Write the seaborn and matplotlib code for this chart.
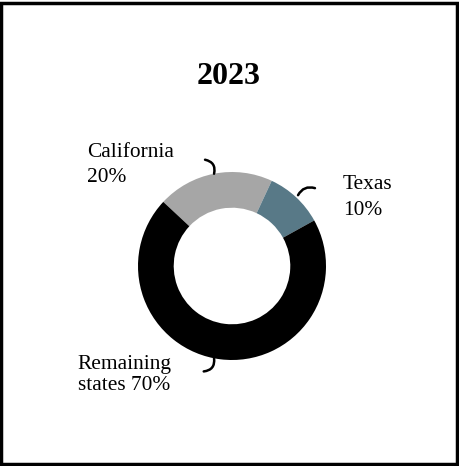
import numpy as np
import matplotlib
matplotlib.use("Agg")
from matplotlib import pyplot as plt
from matplotlib.patches import Rectangle
import seaborn as sns

# data
title = "2023"
states = ["California", "Texas", "Remaining states"]
shares = [20, 10, 70]
label_texts = ["California\n20%", "Texas\n10%", "Remaining\nstates 70%"]
slice_colors = ["#a6a6a6", "#587987", "#000000"]

sns.set_theme(style="white")
plt.rcParams["font.family"] = ["Liberation Serif", "DejaVu Serif"]

fig = plt.figure(figsize=(4.6, 4.66), dpi=100)
ax = fig.add_axes([0, 0, 1, 1])

start = 137
wedges, _ = ax.pie(shares, colors=slice_colors, startangle=start, counterclock=False,
                   radius=1.0, wedgeprops=dict(width=0.38, edgecolor="none"))

# scale: 94 px per unit, donut centre at (232, 266) px from top-left
ax.set_xlim(-232 / 94, 228 / 94)
ax.set_ylim(-200 / 94, 266 / 94)
ax.set_aspect("auto")
ax.axis("off")

# label positions / leader offsets (data units)
text_pos = [(-1.543, 1.077), (1.18, 0.73), (-1.64, -1.16)]
text_spacing = [1.45, 1.45, 1.2]
leader_off = [(-0.096, 0.149), (0.18, 0.075), (-0.11, -0.14)]
leader_rad = [-0.5, 0.4, 0.5]
leader_r = [1.0, 1.03, 1.0]
leader_shift = [0, 0, -4]

for w, txt, (tx, ty), ls, (ox, oy), rad, r, sh in zip(wedges, label_texts, text_pos, text_spacing,
                                                      leader_off, leader_rad, leader_r, leader_shift):
    mid = np.deg2rad((w.theta1 + w.theta2) / 2 + sh)
    bx, by = r * np.cos(mid), r * np.sin(mid)
    ax.annotate("", xy=(bx, by), xytext=(bx + ox, by + oy),
                arrowprops=dict(arrowstyle="-", color="black", lw=1.8,
                                shrinkA=0, shrinkB=0,
                                connectionstyle=f"arc3,rad={rad}"))
    ax.text(tx, ty, txt, ha="left", va="center", fontsize=15.4, linespacing=ls,
            color="black")

fig.text(229 / 460, 1 - 77 / 466, title, ha="center", va="center",
         fontsize=23, fontweight="bold", color="black")

fig.patches.append(Rectangle((0.003, 0.004), 0.991, 0.99, transform=fig.transFigure,
                             fill=False, edgecolor="black", lw=2.5))

fig.savefig("out.png", dpi=100, facecolor="white")
